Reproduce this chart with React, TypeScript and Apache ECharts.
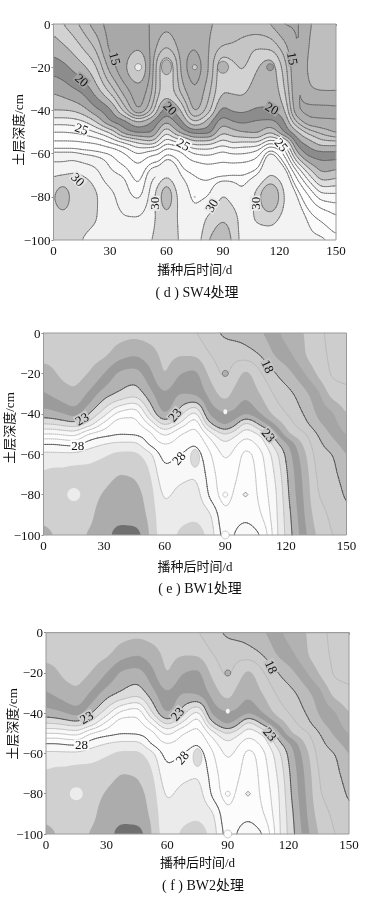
import React, { useEffect, useRef } from "react";
import * as echarts from "echarts";

// sample positions of the soil-temperature tables (one inner list per day)
const sw4Days = [0, 5, 10, 15, 22, 30, 38, 45, 52, 56, 60, 64, 68, 75, 82, 90, 95, 100, 108, 115, 122, 130, 136, 143, 150];
const bwDays = [0, 5, 10, 15, 22, 30, 38, 45, 52, 60, 68, 75, 82, 90, 95, 100, 108, 115, 122, 130, 136, 143, 150];
const depths = [0, -10, -20, -30, -40, -45, -50, -55, -60, -70, -80, -90, -100];

const sw4Values = [
  [18.5, 19.5, 20.55, 21.75, 23, 24.5, 26, 27.2, 28.7, 29.9, 30.8, 30.5, 30.3],
  [18.0, 19.1, 20.3, 21.5, 23, 24.5, 26, 27.2, 28.7, 30.0, 31.7, 30.6, 30.3],
  [17.4, 18.6, 19.8, 21.1, 22.9, 24.4, 25.9, 27.2, 28.7, 30.1, 30.7, 30.5, 30.2],
  [16.7, 17.9, 19.3, 20.7, 22.5, 24.1, 25.7, 27.1, 28.5, 30.0, 30.6, 30.3, 30.0],
  [15.5, 16.8, 18.2, 19.5, 21.4, 23, 25, 26.9, 28.3, 29.6, 30.1, 30.05, 29.7],
  [14.7, 14.8, 15.6, 17.5, 20.2, 21, 23.8, 26, 28, 28.7, 29.5, 29.6, 29.5],
  [14.5, 14.5, 14.15, 15.3, 17.5, 20.2, 21.4, 25, 27, 28.4, 28.8, 29.3, 29.5],
  [14.6, 14.2, 13.0, 14.3, 15, 19, 20.8, 24, 26, 27.7, 28.4, 29.3, 29.6],
  [15.1, 15.2, 15.3, 15.7, 17.2, 20, 20.9, 23.5, 26.7, 29, 29.6, 29.8, 30],
  [15.4, 16.3, 18, 18, 19.5, 20.9, 22.4, 24.5, 27, 29.3, 30.5, 30.2, 30.2],
  [15.6, 16.9, 18.7, 18.5, 20.4, 21.8, 23.8, 25.8, 28, 29.8, 32, 30.6, 30.4],
  [15.4, 16.3, 18, 18, 19.9, 21, 22.6, 25.4, 27.7, 29.3, 30.5, 30.2, 30.2],
  [15.2, 15.4, 15.6, 16.5, 18.9, 20.1, 21.6, 25, 27.2, 28.4, 29.4, 29.75, 29.85],
  [15.1, 15.05, 14.5, 15.05, 15.8, 18, 20.6, 23.5, 26, 28, 28.3, 28.9, 29.4],
  [15.8, 15.9, 15.9, 16.5, 17.5, 19.4, 20.6, 23.6, 25.8, 27.8, 28.5, 30.2, 30.95],
  [16.3, 17, 18.8, 18.9, 20.3, 21.5, 22.8, 24.5, 26.3, 27.9, 30.1, 30.9, 31.6],
  [16.4, 17.1, 18.3, 18.8, 19.9, 21, 22.4, 24, 26, 28, 29.5, 30.6, 30.9],
  [16.4, 17.3, 17.9, 18.7, 19.8, 20.8, 22, 24.2, 26, 28, 28.8, 29.6, 29.7],
  [16.2, 17.8, 18.9, 19.5, 20.1, 21.1, 21.8, 24.2, 26.5, 28.5, 30.4, 30.1, 29.5],
  [15.95, 17.6, 19.5, 19.7, 20.1, 21.2, 22.8, 25.8, 28.7, 30, 32.4, 30.4, 29.4],
  [14.9, 16.4, 17.7, 18.3, 19.3, 20.2, 21, 24.8, 27, 29.3, 30.1, 29.7, 29.2],
  [14.95, 14.9, 14.85, 14.85, 15, 16.5, 19, 20.4, 22, 26.3, 28.4, 29, 29.3],
  [15.9, 16.1, 16.3, 15.9, 14.8, 15.2, 17.5, 19.5, 20.6, 24, 27, 28.3, 28.7],
  [16.5, 16.6, 16.6, 16.1, 14.8, 15.1, 16.6, 18.5, 20.3, 22.3, 25.5, 27.8, 28.6],
  [16.6, 16.7, 16.7, 16.1, 14.85, 15.05, 15.8, 18.5, 20.3, 22.6, 25.4, 27.2, 28.3],
];

const bw1Values = [
  [19.4, 19.7, 20.4, 21.1, 22.5, 24, 26, 28, 29.2, 30.1, 30.4, 30.6, 31.6],
  [19.4, 19.7, 20.1, 20.8, 22.3, 23.9, 26, 28, 29.2, 30.2, 30.3, 30.4, 31.0],
  [19.4, 19.6, 19.8, 20.45, 22, 23.6, 25.8, 27.8, 29.2, 30.2, 30.3, 30.3, 30.4],
  [19.4, 19.5, 19.7, 20.2, 21.6, 23.4, 25.6, 27.7, 29.2, 30.3, 30.3, 30.3, 30.5],
  [19.4, 19.6, 20, 21.1, 22.9, 24.3, 27, 28.4, 29.5, 30.3, 30.5, 30.7, 31.1],
  [19.5, 19.8, 21, 22.5, 24.6, 26.3, 27.6, 29, 29.85, 30.6, 31.1, 31.5, 31.7],
  [19.6, 20.5, 22.2, 23.2, 26.4, 27.6, 27.9, 29.3, 30.2, 31, 31.4, 31.9, 34.5],
  [19.7, 20.8, 22.4, 23.6, 26.7, 27.4, 27.85, 29.3, 30.2, 30.9, 31.3, 31.7, 34.4],
  [19.6, 20.4, 21.4, 22.5, 24.3, 26, 27.4, 27.9, 29.4, 30.2, 30.6, 30.8, 31],
  [19.6, 19.8, 19.95, 21.1, 22, 23.8, 25.8, 27, 27.6, 28.3, 28.85, 29.3, 29.6],
  [19.7, 19.9, 21, 22, 23.7, 25.3, 27, 27.5, 28, 28.7, 29.3, 29.7, 30.2],
  [19.05, 19.8, 21.2, 21.85, 25.3, 26.7, 27.4, 27.95, 28.4, 28.9, 29.4, 29.8, 30.5],
  [18.4, 19, 19.8, 20.7, 21.9, 23.3, 25.6, 26.6, 27.2, 27.6, 27.9, 29.2, 29.7],
  [17.8, 18.5, 18.85, 19.6, 21.1, 21.8, 24, 25.2, 25.8, 26.4, 26.6, 27.2, 27.6],
  [17.6, 18.6, 19.5, 20.4, 21.3, 22.7, 24.7, 25.8, 26.3, 26.8, 27.2, 27.6, 28.1],
  [17.5, 18.4, 20.2, 20.8, 21.9, 24.3, 25.6, 26.5, 27.3, 27.6, 27.7, 27.8, 28.6],
  [17.05, 17.8, 19, 19.85, 20.9, 22.5, 24.7, 25.5, 26.1, 26.4, 26.6, 27, 27.9],
  [16.2, 16.8, 18, 18.8, 19.6, 20.8, 22.3, 23.4, 24.3, 24.8, 25.1, 25.2, 25.3],
  [15.5, 16.1, 17.2, 18.2, 18.8, 19.3, 20, 21.7, 22.2, 22.6, 22.8, 23.1, 23.3],
  [14.9, 14.95, 15.9, 17.15, 17.8, 18.2, 19, 19.5, 20, 20.4, 20.6, 20.8, 21.1],
  [14.2, 14.3, 14.8, 16.2, 16.8, 17.2, 17.9, 18.3, 18.5, 18.8, 19, 19.4, 19.8],
  [13.8, 13.85, 13.9, 14.6, 16.1, 16.4, 16.8, 17.4, 18, 18.3, 18.6, 18.8, 19],
  [13.6, 13.7, 13.8, 14.2, 14.95, 15.4, 15.9, 16.4, 16.9, 17.4, 17.8, 18.2, 18.7],
];

const bw2Values = [
  [19.4, 19.7, 20.4, 21.1, 22.5, 24, 26, 28, 29.2, 30.1, 30.4, 30.6, 31.6],
  [19.4, 19.7, 20.1, 20.8, 22.3, 23.9, 26, 28, 29.2, 30.2, 30.3, 30.4, 31.0],
  [19.4, 19.6, 19.8, 20.45, 22, 23.6, 25.8, 27.8, 29.2, 30.2, 30.3, 30.3, 30.4],
  [19.4, 19.5, 19.7, 20.2, 21.6, 23.4, 25.6, 27.7, 29.2, 30.3, 30.3, 30.3, 30.5],
  [19.4, 19.6, 20, 21.1, 22.9, 24.3, 27, 28.4, 29.5, 30.3, 30.5, 30.7, 31.1],
  [19.5, 19.8, 21, 22.5, 24.6, 26.3, 27.6, 29, 29.85, 30.6, 31.1, 31.5, 31.7],
  [19.6, 20.5, 22.2, 23.2, 26.4, 27.6, 27.9, 29.3, 30.2, 31, 31.4, 31.9, 34.5],
  [19.7, 20.8, 22.4, 23.6, 26.7, 27.4, 27.85, 29.3, 30.2, 30.9, 31.3, 31.7, 34.4],
  [19.6, 20.4, 21.4, 22.5, 24.3, 26, 27.4, 27.9, 29.4, 30.2, 30.6, 30.8, 31],
  [19.6, 19.8, 19.95, 21.1, 22, 23.8, 25.8, 27, 27.6, 28.3, 28.85, 29.3, 29.6],
  [19.7, 19.9, 21, 22, 23.7, 25.3, 27, 27.5, 28, 28.7, 29.3, 29.7, 30.2],
  [19.05, 19.8, 21.2, 21.85, 25.3, 26.7, 27.4, 27.95, 28.4, 28.9, 29.4, 29.8, 30.5],
  [18.4, 19, 19.8, 20.7, 21.9, 23.3, 25.6, 26.6, 27.2, 27.6, 27.9, 29.2, 29.7],
  [17.8, 18.5, 18.85, 19.6, 21.1, 21.8, 24, 25.2, 25.8, 26.4, 26.6, 27.2, 27.6],
  [17.6, 18.6, 19.5, 20.4, 21.3, 22.7, 24.7, 25.8, 26.3, 26.8, 27.2, 27.6, 28.1],
  [17.5, 18.4, 20.2, 20.8, 21.9, 24.3, 25.6, 26.5, 27.3, 27.6, 27.7, 27.8, 28.6],
  [17.05, 17.8, 19, 19.85, 20.9, 22.5, 24.7, 25.5, 26.1, 26.4, 26.6, 27, 27.9],
  [16.2, 16.8, 18, 18.8, 19.6, 20.8, 22.3, 23.4, 24.3, 24.8, 25.1, 25.2, 25.3],
  [15.5, 16.1, 17.2, 18.2, 18.8, 19.3, 20, 21.7, 22.2, 22.6, 22.8, 23.1, 23.3],
  [14.9, 14.95, 15.9, 17.15, 17.8, 18.2, 19, 19.5, 20, 20.4, 20.6, 20.8, 21.1],
  [14.2, 14.3, 14.8, 16.2, 16.8, 17.2, 17.9, 18.3, 18.5, 18.8, 19, 19.4, 19.8],
  [13.8, 13.85, 13.9, 14.6, 16.1, 16.4, 16.8, 17.4, 18, 18.3, 18.6, 18.8, 19],
  [13.6, 13.7, 13.8, 14.2, 14.95, 15.4, 15.9, 16.4, 16.9, 17.4, 17.8, 18.2, 18.7],
];

// contour levels and grey of the band that starts at each level
const sw4Levels = [14, 15, 16, 17, 18, 19, 20, 21, 22, 23, 24, 25, 26, 27, 28, 28.5, 29.25, 30, 31];
const sw4Greys = [168, 174, 190, 197, 210, 180, 140, 165, 195, 222, 240, 248, 252, 253, 250, 243, 243, 212, 188];
const bwLevels = [14, 15, 16, 17, 18, 19, 20, 21, 22, 23, 24, 25, 26, 27, 28, 29, 30, 31, 33];
const bwGreys = [205, 178, 165, 187, 203, 205, 178, 155, 178, 220, 235, 248, 253, 252, 248, 235, 208, 172, 112];
const bwDarkLevels = [18, 23, 28];
const bwFaintLevels = [14, 19, 24, 25, 26, 27, 29];

// inline contour labels: [day, depth, text]
const sw4Labels = [[32.7, -16, "15"], [15, -26, "20"], [15, -48.5, "25"], [13, -72, "30"], [62, -39, "20"], [69, -55.7, "25"], [116, -39, "20"], [121, -56, "25"], [127, -16, "15"], [53.5, -83, "30"], [84, -84, "30"], [107, -83, "30"]];
const bw1Labels = [[19, -42.5, "23"], [17, -55.5, "28"], [65, -40.5, "23"], [67, -62, "28"], [111, -16.5, "18"], [111.5, -50.5, "23"]];
const bw2Labels = [[20, -42, "23"], [17.6, -55.7, "28"], [65, -40.3, "23"], [67.4, -62, "28"], [111.5, -16.9, "18"], [111, -50.4, "23"]];

// tiny bull's-eyes round single readings: [day, depth]
const sw4Spots = [[45, -20], [75, -20], [90, -20], [115, -20], [60, -20], [75, -80]];
const bwSpots = [[15, -80], [90, -20], [90, -39], [75, -62], [90, -80], [100, -80], [90, -100]];

const xTicks = { min: 0, max: 150, interval: 30 };
const yTicks = { min: -100, max: 0, interval: 20 };

// --- presentation ---
const SERIF = '"Liberation Serif", "Noto Sans CJK SC", serif';
const grey = (g: number) => `rgb(${g},${g},${g})`;
const sw4SpotStyle = [
  { size: 7, fill: 236, stroke: "#666" },
  { size: 5, fill: 205, stroke: "#555" },
  { size: [11, 12], fill: 178, stroke: "#555" },
  { size: 7, fill: 152, stroke: "#555" },
  { size: [10, 15], fill: 180, stroke: "#555" },
  { size: 2, fill: 190, stroke: "none" },
];
const bwSpotStyle = [
  { size: 13, fill: 236, stroke: "none" },
  { size: 6, fill: 175, stroke: "#555" },
  { size: [4, 5], fill: 245, stroke: "none" },
  { size: [9, 18], fill: 218, stroke: "#bbb" },
  { size: 5, fill: 252, stroke: "#aaa" },
  { size: 5, symbol: "diamond", fill: 238, stroke: "#555" },
  { size: 8, fill: 252, stroke: "#aaa" },
];

type Panel = {
  days: number[]; values: number[][]; levels: number[]; greys: number[]; base: number;
  labels: any[]; labelRot: number[]; labelBg: number[];
  spots: number[][]; spotStyle: any[];
  rect: { x0: number; x1: number; y0: number; y1: number };
  lineFor: (l: number) => { c: string; w: number } | null;
  lineMask?: Record<string, number>;
  title: string; titleX: number; titleY: number; xName: number; xNameX: number; yNameX: number; yNameY: number;
};

const bwLine = (l: number) =>
  bwDarkLevels.includes(l) ? { c: "#4a4a4a", w: 0.8 } : bwFaintLevels.includes(l) ? { c: "#b4b4b4", w: 0.6 } : null;

const panels: Panel[] = [
  {
    days: sw4Days, values: sw4Values, levels: sw4Levels, greys: sw4Greys, base: 200,
    labels: sw4Labels, labelRot: [-75, -40, -20, -45, -45, -30, -30, -50, -80, 90, 60, 90],
    labelBg: [172, 160, 248, 230, 165, 248, 165, 248, 172, 235, 235, 235],
    spots: sw4Spots, spotStyle: sw4SpotStyle,
    rect: { x0: 53.5, x1: 336, y0: 24, y1: 240 },
    lineFor: () => ({ c: "#5a5a5a", w: 0.65 }), lineMask: { "29.25": 54 },
    title: "( d ) SW4处理", titleX: 192, titleY: 292, xName: 270, xNameX: 193, yNameX: 18, yNameY: 130,
  },
  {
    days: bwDays, values: bw1Values, levels: bwLevels, greys: bwGreys, base: 205,
    labels: bw1Labels, labelRot: [30, 0, 50, 50, -65, -50], labelBg: [205, 250, 205, 250, 195, 200],
    spots: bwSpots, spotStyle: bwSpotStyle,
    rect: { x0: 43.5, x1: 346.5, y0: 333, y1: 535 }, lineFor: bwLine,
    title: "( e ) BW1处理", titleX: 195, titleY: 588, xName: 567, xNameX: 195, yNameX: 9, yNameY: 428,
  },
  {
    days: bwDays, values: bw2Values, levels: bwLevels, greys: bwGreys, base: 205,
    labels: bw2Labels, labelRot: [30, 0, 50, 50, -65, -50], labelBg: [205, 250, 205, 250, 195, 200],
    spots: bwSpots, spotStyle: bwSpotStyle,
    rect: { x0: 46, x1: 349, y0: 632.7, y1: 834 }, lineFor: bwLine,
    title: "( f ) BW2处理", titleX: 198, titleY: 885, xName: 863, xNameX: 198, yNameX: 12, yNameY: 724,
  },
];

// monotone cubic through the table so that no false rings appear between samples
function pchip(xs: number[], ys: number[]) {
  const n = xs.length;
  const h: number[] = [], d: number[] = [];
  for (let i = 0; i < n - 1; i++) { h[i] = xs[i + 1] - xs[i]; d[i] = (ys[i + 1] - ys[i]) / h[i]; }
  const m: number[] = new Array(n).fill(0);
  m[0] = d[0]; m[n - 1] = d[n - 2];
  for (let i = 1; i < n - 1; i++) {
    if (d[i - 1] * d[i] > 0) {
      const w1 = 2 * h[i] + h[i - 1], w2 = h[i] + 2 * h[i - 1];
      m[i] = (w1 + w2) / (w1 / d[i - 1] + w2 / d[i]);
    }
  }
  return (q: number) => {
    let k = 0;
    while (k < n - 2 && q > xs[k + 1]) k++;
    const t = (q - xs[k]) / h[k], t2 = t * t, t3 = t2 * t;
    return (2 * t3 - 3 * t2 + 1) * ys[k] + (t3 - 2 * t2 + t) * h[k] * m[k] + (-2 * t3 + 3 * t2) * ys[k + 1] + (t3 - t2) * h[k] * m[k + 1];
  };
}

const fineDays: number[] = [];
for (let d = 0; d <= 150; d += 1) fineDays.push(d);
const fineDepths: number[] = [];
for (let d = 0; d >= -100; d -= 1) fineDepths.push(d);

const KERNEL = [1, 4, 6, 4, 1];
function soften(line: number[]) {
  const n = line.length;
  return line.map((_, i) => {
    let s = 0;
    KERNEL.forEach((w, k) => { s += w * line[Math.min(n - 1, Math.max(0, i + k - 2))]; });
    return s / 16;
  });
}

function refine(days: number[], values: number[][]) {
  const pos = depths.map((d) => -d);
  const cols = values.map((c) => { const f = pchip(pos, c); return fineDepths.map((d) => f(-d)); });
  let field = fineDepths.map((_, j) => { const f = pchip(days, cols.map((c) => c[j])); return fineDays.map((x) => f(x)); });
  // round the kinks of the table by a light low-pass along both axes
  for (let pass = 0; pass < 2; pass++) {
    field = field.map(soften);
  }
  for (let pass = 0; pass < 2; pass++) {
    for (let i = 0; i < fineDays.length; i++) {
      const col = soften(field.map((r) => r[i]));
      col.forEach((v, j) => { field[j][i] = v; });
    }
  }
  return field;
}

const fm = (v: number) => v.toFixed(1);

function cellCut(a: number, b: number, c: number, e: number, L: number, x0: number, x1: number, y0: number, y1: number) {
  const pts = [[x0, y0, a], [x1, y0, b], [x1, y1, c], [x0, y1, e]];
  const poly: number[][] = [], cross: number[][] = [];
  for (let k = 0; k < 4; k++) {
    const p = pts[k], q = pts[(k + 1) % 4];
    if (p[2] >= L) poly.push([p[0], p[1]]);
    if (p[2] >= L !== q[2] >= L) {
      const t = (L - p[2]) / (q[2] - p[2]);
      const r = [p[0] + (q[0] - p[0]) * t, p[1] + (q[1] - p[1]) * t];
      poly.push(r); cross.push(r);
    }
  }
  return { poly, cross };
}

function fillPath(f: number[][], L: number, px: number[], py: number[]) {
  const out: string[] = [];
  for (let j = 0; j < py.length - 1; j++) {
    let run = -1;
    for (let i = 0; i < px.length - 1; i++) {
      const a = f[j][i], b = f[j][i + 1], c = f[j + 1][i + 1], e = f[j + 1][i];
      const full = a >= L && b >= L && c >= L && e >= L;
      if (full) { if (run < 0) run = i; continue; }
      if (run >= 0) {
        out.push(`M${fm(px[run])} ${fm(py[j])}L${fm(px[i])} ${fm(py[j])}L${fm(px[i])} ${fm(py[j + 1])}L${fm(px[run])} ${fm(py[j + 1])}Z`);
        run = -1;
      }
      if (a >= L || b >= L || c >= L || e >= L) {
        const { poly } = cellCut(a, b, c, e, L, px[i], px[i + 1], py[j], py[j + 1]);
        out.push("M" + poly.map((p) => `${fm(p[0])} ${fm(p[1])}`).join("L") + "Z");
      }
    }
    if (run >= 0) {
      const i = px.length - 1;
      out.push(`M${fm(px[run])} ${fm(py[j])}L${fm(px[i])} ${fm(py[j])}L${fm(px[i])} ${fm(py[j + 1])}L${fm(px[run])} ${fm(py[j + 1])}Z`);
    }
  }
  return out.join("");
}

function linePath(f: number[][], L: number, px: number[], py: number[], maxI: number) {
  const out: string[] = [];
  for (let j = 0; j < py.length - 1; j++) {
    for (let i = 0; i < Math.min(px.length - 1, maxI); i++) {
      const a = f[j][i], b = f[j][i + 1], c = f[j + 1][i + 1], e = f[j + 1][i];
      const any = a >= L || b >= L || c >= L || e >= L;
      const all = a >= L && b >= L && c >= L && e >= L;
      if (!any || all) continue;
      const { cross } = cellCut(a, b, c, e, L, px[i], px[i + 1], py[j], py[j + 1]);
      for (let k = 0; k + 1 < cross.length; k += 2) {
        out.push(`M${fm(cross[k][0])} ${fm(cross[k][1])}L${fm(cross[k + 1][0])} ${fm(cross[k + 1][1])}`);
      }
    }
  }
  return out.join("");
}

function buildOption() {
  const grids: any[] = [], xAxes: any[] = [], yAxes: any[] = [], series: any[] = [], titles: any[] = [], graphics: any[] = [];
  panels.forEach((p, n) => {
    const fine = refine(p.days, p.values);
    grids.push({ left: p.rect.x0, top: p.rect.y0, width: p.rect.x1 - p.rect.x0, height: p.rect.y1 - p.rect.y0 });
    const lineStyle = { color: "#8c8c8c", width: 1 };
    xAxes.push({
      type: "value", gridIndex: n, ...xTicks, name: "播种后时间/d", nameLocation: "middle",
      nameGap: p.xName - p.rect.y1 - 7,
      nameTextStyle: { color: "#111", fontSize: 13, fontFamily: SERIF },
      axisLine: { lineStyle }, axisTick: { length: 2, lineStyle }, splitLine: { show: false },
      axisLabel: { color: "#111", fontSize: 13, fontFamily: SERIF, margin: 4, hideOverlap: false, showMinLabel: true, showMaxLabel: true },
    });
    yAxes.push({
      type: "value", gridIndex: n, ...yTicks,
      axisLine: { lineStyle }, axisTick: { length: 2, lineStyle }, splitLine: { show: false },
      axisLabel: {
        color: "#111", fontSize: 13, fontFamily: SERIF, margin: 3, showMinLabel: true, showMaxLabel: true,
        formatter: (v: number) => (v < 0 ? "\u2212" + Math.abs(v) : String(v)),
      },
    });
    titles.push({
      text: p.title, left: p.titleX, top: p.titleY - 12, textAlign: "center",
      textStyle: { color: "#111", fontSize: 14, fontWeight: "normal", fontFamily: SERIF },
    });
    graphics.push({
      type: "text", x: p.yNameX, y: p.yNameY, rotation: Math.PI / 2,
      style: { text: "土层深度/cm", fill: "#111", align: "center", verticalAlign: "middle", fontSize: 13, fontFamily: SERIF },
    });

    const coords = (api: any) => ({
      px: fineDays.map((d) => api.coord([d, 0])[0]),
      py: fineDepths.map((d) => api.coord([0, d])[1]),
    });
    const axisRef = { xAxisIndex: n, yAxisIndex: n, coordinateSystem: "cartesian2d" as const, silent: true, animation: false };

    series.push({
      type: "custom", ...axisRef, clip: false,
      data: [-1, ...p.levels.map((_, i) => i)].map((i) => [75, -50, i]),
      renderItem: (_: any, api: any) => {
        const i = api.value(2);
        const { px, py } = coords(api);
        if (i < 0) {
          return { type: "rect", shape: { x: px[0], y: py[0], width: px[px.length - 1] - px[0], height: py[py.length - 1] - py[0] }, style: { fill: grey(p.base) } };
        }
        return { type: "path", shape: { pathData: fillPath(fine, p.levels[i], px, py) }, style: { fill: grey(p.greys[i]) } };
      },
    });
    series.push({
      type: "custom", ...axisRef, clip: false,
      data: [...p.levels.map((_, i) => i)].map((i) => [75, -50, i]),
      renderItem: (_: any, api: any) => {
        const i = api.value(2);
        const { px, py } = coords(api);
        const L = p.levels[i];
        const st = p.lineFor(L);
        if (!st) return { type: "group", children: [] };
        const mask = p.lineMask && p.lineMask[String(L)];
        return {
          type: "path",
          shape: { pathData: linePath(fine, L, px, py, mask || 1e9) },
          style: { fill: "none", stroke: st.c, lineWidth: st.w, lineCap: "round" },
        };
      },
    });
    series.push({
      type: "scatter", xAxisIndex: n, yAxisIndex: n, silent: true, animation: false, clip: true,
      data: p.spots.map((s, i) => ({
        value: s, symbol: p.spotStyle[i].symbol || "circle", symbolSize: p.spotStyle[i].size,
        itemStyle: { color: grey(p.spotStyle[i].fill), borderColor: p.spotStyle[i].stroke === "none" ? "transparent" : p.spotStyle[i].stroke, borderWidth: p.spotStyle[i].stroke === "none" ? 0 : 0.6, opacity: 1 },
      })),
    });
    series.push({
      type: "custom", ...axisRef, clip: false,
      data: [[75, -50]],
      renderItem: (_: any, api: any) => {
        const px0 = api.coord([0, 0]), px1 = api.coord([150, -100]);
        return { type: "rect", shape: { x: px0[0], y: px0[1], width: px1[0] - px0[0], height: px1[1] - px0[1] }, style: { fill: "none", stroke: "#9a9a9a", lineWidth: 1 } };
      },
    });
    series.push({
      type: "custom", ...axisRef, clip: false,
      data: p.labels.map((l, i) => [l[0], l[1], i]),
      renderItem: (_: any, api: any) => {
        const i = api.value(2);
        const pt = api.coord([api.value(0), api.value(1)]);
        return {
          type: "text", x: pt[0], y: pt[1], rotation: (p.labelRot[i] * Math.PI) / 180,
          style: {
            text: p.labels[i][2], align: "center", verticalAlign: "middle", fill: "#111",
            fontSize: 13, fontFamily: SERIF, backgroundColor: grey(p.labelBg[i]), padding: [-1, 1],
          },
        };
      },
    });
  });
  return { animation: false, backgroundColor: "#fff", title: titles, grid: grids, xAxis: xAxes, yAxis: yAxes, series, graphic: graphics };
}

export default function App() {
  const ref = useRef<HTMLDivElement>(null);
  useEffect(() => {
    const chart = echarts.init(ref.current!, undefined, { renderer: "svg" });
    chart.setOption(buildOption() as any);
    return () => chart.dispose();
  }, []);
  return <div ref={ref} style={{ position: "absolute", left: 0, top: 0, width: 376, height: 914, filter: "blur(0.3px)" }} />;
}
